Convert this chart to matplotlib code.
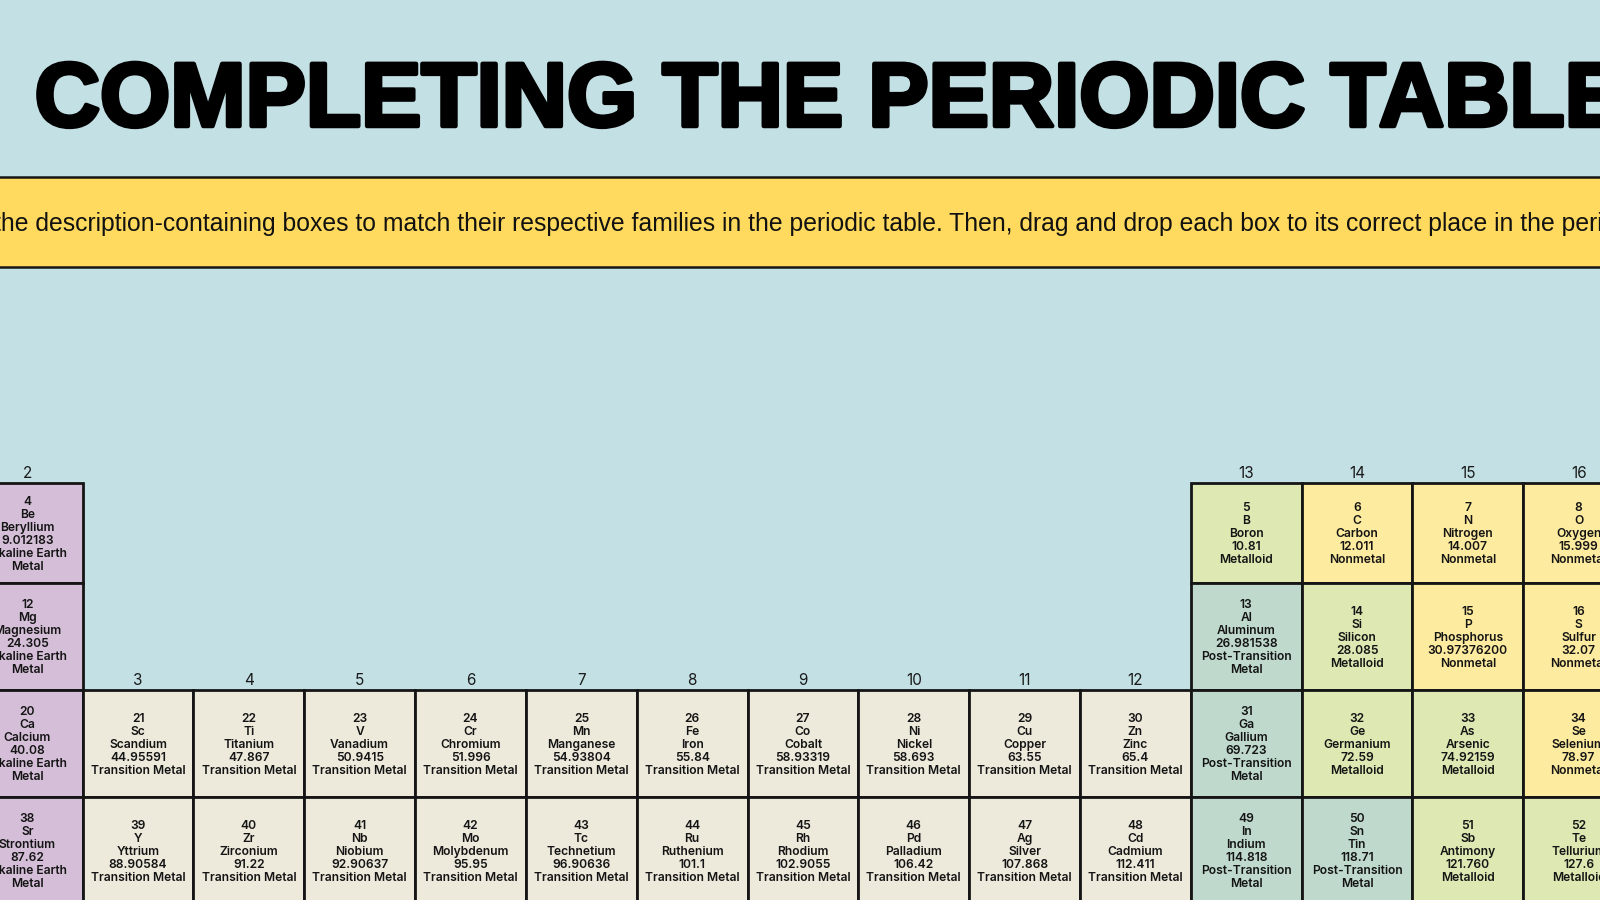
import matplotlib
matplotlib.use("Agg")
import matplotlib.pyplot as plt
import matplotlib.patheffects as pe
from matplotlib.patches import Rectangle

# ---------------- data ----------------
title_text = "COMPLETING THE PERIODIC TABLE"
banner_text = ("the description-containing boxes to match their respective families in the "
               "periodic table. Then, drag and drop each box to its correct place in the periodic table.")

header_groups = [2, 3, 4, 5, 6, 7, 8, 9, 10, 11, 12, 13, 14, 15, 16]

numbers = [4, 5, 6, 7, 8,
           12, 13, 14, 15, 16,
           20, 21, 22, 23, 24, 25, 26, 27, 28, 29, 30, 31, 32, 33, 34,
           38, 39, 40, 41, 42, 43, 44, 45, 46, 47, 48, 49, 50, 51, 52]
symbols = ["Be", "B", "C", "N", "O",
           "Mg", "Al", "Si", "P", "S",
           "Ca", "Sc", "Ti", "V", "Cr", "Mn", "Fe", "Co", "Ni", "Cu", "Zn", "Ga", "Ge", "As", "Se",
           "Sr", "Y", "Zr", "Nb", "Mo", "Tc", "Ru", "Rh", "Pd", "Ag", "Cd", "In", "Sn", "Sb", "Te"]
names = ["Beryllium", "Boron", "Carbon", "Nitrogen", "Oxygen",
         "Magnesium", "Aluminum", "Silicon", "Phosphorus", "Sulfur",
         "Calcium", "Scandium", "Titanium", "Vanadium", "Chromium", "Manganese", "Iron", "Cobalt",
         "Nickel", "Copper", "Zinc", "Gallium", "Germanium", "Arsenic", "Selenium",
         "Strontium", "Yttrium", "Zirconium", "Niobium", "Molybdenum", "Technetium", "Ruthenium",
         "Rhodium", "Palladium", "Silver", "Cadmium", "Indium", "Tin", "Antimony", "Tellurium"]
masses = ["9.012183", "10.81", "12.011", "14.007", "15.999",
          "24.305", "26.981538", "28.085", "30.97376200", "32.07",
          "40.08", "44.95591", "47.867", "50.9415", "51.996", "54.93804", "55.84", "58.93319",
          "58.693", "63.55", "65.4", "69.723", "72.59", "74.92159", "78.97",
          "87.62", "88.90584", "91.22", "92.90637", "95.95", "96.90636", "101.1", "102.9055",
          "106.42", "107.868", "112.411", "114.818", "118.71", "121.760", "127.6"]
AE, TM, PT, ML, NM = "Alkaline Earth Metal", "Transition Metal", "Post-Transition Metal", "Metalloid", "Nonmetal"
categories = [AE, ML, NM, NM, NM,
              AE, PT, ML, NM, NM,
              AE, TM, TM, TM, TM, TM, TM, TM, TM, TM, TM, PT, ML, ML, NM,
              AE, TM, TM, TM, TM, TM, TM, TM, TM, TM, TM, PT, PT, ML, ML]
groups = [2, 13, 14, 15, 16,
          2, 13, 14, 15, 16,
          2, 3, 4, 5, 6, 7, 8, 9, 10, 11, 12, 13, 14, 15, 16,
          2, 3, 4, 5, 6, 7, 8, 9, 10, 11, 12, 13, 14, 15, 16]
periods = [2] * 5 + [3] * 5 + [4] * 15 + [5] * 15

# ---------------- style ----------------
BG = "#C3E0E5"
BANNER = "#FFDA5E"
EDGE = "#151515"
cat_colors = {AE: "#D5BFD8", TM: "#EDEADC", PT: "#BFD9CD", ML: "#DDE8B3", NM: "#FDEB9F"}
cat_lines = {AE: ["Alkaline Earth", "Metal"], TM: ["Transition Metal"],
             PT: ["Post-Transition", "Metal"], ML: ["Metalloid"], NM: ["Nonmetal"]}

W, H = 1568, 882
fig = plt.figure(figsize=(16, 9), dpi=100)
fig.patch.set_facecolor(BG)
ax = fig.add_axes([0, 0, 1, 1])
ax.set_facecolor(BG)
ax.set_xlim(0, W)
ax.set_ylim(H, 0)
ax.axis("off")
renderer = fig.canvas.get_renderer()
PX = 1600.0 / W          # figure pixels per axis unit
PT2U = (100.0 / 72.0) / PX  # axis units per point


def text_width(s, size, **kw):
    t = ax.text(0, 0, s, fontsize=size, **kw)
    bb = t.get_window_extent(renderer)
    t.remove()
    return bb.width / PX


def fit(s, target, **kw):
    return 20.0 * target / text_width(s, 20.0, **kw)


# ---------------- title ----------------
title_kw = dict(family=["Liberation Sans", "DejaVu Sans"], weight="bold")
ts = fit("COMPLETING THE PERIODIC TABL", 1498, **title_kw)
ax.text(34, 123.5, title_text, fontsize=ts, ha="left", va="baseline", color="#000000",
        path_effects=[pe.Stroke(linewidth=3.2, foreground="#000000"), pe.Normal()], **title_kw)

# ---------------- banner ----------------
ax.add_patch(Rectangle((-10, 173), W + 20, 89, facecolor=BANNER, edgecolor=EDGE, linewidth=1.8, zorder=1))
ban_kw = dict(family=["Liberation Sans Narrow", "Liberation Sans", "DejaVu Sans"])
visible = ("he description-containing boxes to match their respective families in the periodic table. "
           "Then, drag and drop each box to its correct place in the peri")
bs = fit(visible, 1570, **ban_kw)
tw = text_width("t", bs, **ban_kw)
ax.text(-tw + 1, 226, banner_text, fontsize=bs, ha="left", va="baseline", color="#111111", zorder=2, **ban_kw)

# ---------------- table ----------------
col_w = 108.6
x3 = 81.0
row_top = {2: 473.0, 3: 571.0, 4: 676.0, 5: 781.0}
row_h = {2: 98.0, 3: 105.0, 4: 105.0, 5: 105.0}


def col_left(g):
    return x3 + (g - 3) * col_w


cell_kw = dict(family=["Inter", "DejaVu Sans"], weight="semibold")
cs = fit("Transition Metal", 93, **cell_kw)
cap = 0.727 * cs * PT2U
line_gap = 12.75

for n, s, nm, m, c, g, p in zip(numbers, symbols, names, masses, categories, groups, periods):
    x0 = col_left(g)
    y0 = row_top[p]
    h = row_h[p]
    ax.add_patch(Rectangle((x0, y0), col_w, h, facecolor=cat_colors[c], edgecolor=EDGE,
                           linewidth=2.0, zorder=3))
    lines = [str(n), s, nm, m] + cat_lines[c]
    k = len(lines)
    yc = y0 + h / 2.0
    for i, ln in enumerate(lines):
        yl = yc + (i - (k - 1) / 2.0) * line_gap
        ax.text(x0 + col_w / 2.0, yl + cap / 2.0, ln, fontsize=cs, ha="center", va="baseline",
                color="#141414", zorder=4, **cell_kw)

# group header numbers
hdr_kw = dict(family=["Inter", "DejaVu Sans"], weight="normal")
hs = 11.0
hcap = 0.727 * hs * PT2U
for g in header_groups:
    top_period = min(p for gg, p in zip(groups, periods) if gg == g)
    yc = row_top[top_period] - 10.0
    ax.text(col_left(g) + col_w / 2.0, yc + hcap / 2.0, str(g), fontsize=hs, ha="center",
            va="baseline", color="#1a1a1a", zorder=4, **hdr_kw)

fig.savefig("out.png", dpi=100, facecolor=BG)
